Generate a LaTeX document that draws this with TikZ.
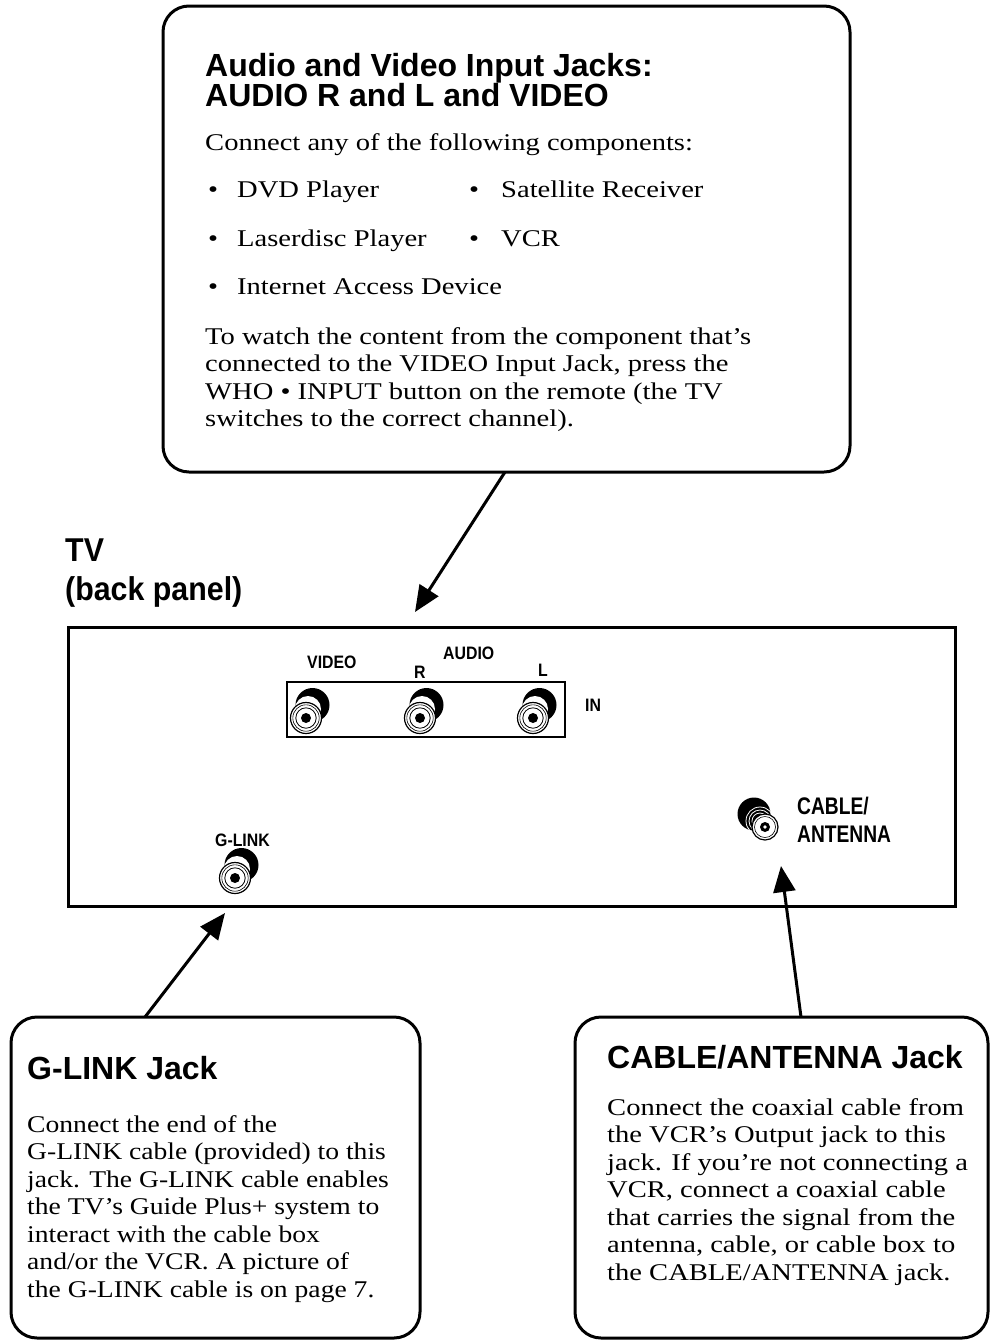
\documentclass[tikz,border=0pt]{standalone}
\usepackage{fontspec}
\setmainfont{Liberation Serif}[FakeStretch=1.19]
\newfontfamily\hv{Liberation Sans}
\newfontfamily\hvc{Liberation Sans}[FakeStretch=0.88]
\newfontfamily\hvcc{Liberation Sans}[FakeStretch=0.80]
\newfontfamily\hvtv{Liberation Sans}[FakeStretch=0.92]
\usetikzlibrary{arrows.meta}
\begin{document}
\begin{tikzpicture}[x=1pt,y=-1pt,
  callout/.style={draw, line width=3pt, rounded corners=26pt},
  title/.style={anchor=base west, inner sep=0pt, font=\hv\bfseries\fontsize{32}{34}\selectfont},
  body/.style={anchor=base west, inner sep=0pt, align=left, font=\fontsize{24}{27.5}\selectfont},
  lbl/.style={anchor=base west, inner sep=0pt, font=\hvc\bfseries\fontsize{18}{27}\selectfont},
  biglbl/.style={anchor=base west, inner sep=0pt, font=\hvcc\bfseries\fontsize{24}{28}\selectfont},
  tvlbl/.style={anchor=base west, inner sep=0pt, font=\hvtv\bfseries\fontsize{33}{36}\selectfont},
  pointer/.style={line width=3pt, -{Triangle[length=26pt,width=22pt]}}
]
\useasboundingbox (0,0) rectangle (990,1342);

% ---------- top callout ----------
\draw[callout] (163,6) rectangle (850,472);
\node[title] (t1) at (205,76) {Audio and Video Input Jacks:};
\node[title] (t2) at (205,106) {AUDIO R and L and VIDEO};
\node[body] (b0) at (205,150) {Connect any of the following components:};
\node[body] (bl1) at (208,197) {\makebox[29pt][l]{\textbullet}DVD Player};
\node[body] (bl2) at (208,246) {\makebox[29pt][l]{\textbullet}Laserdisc Player};
\node[body] (bl3) at (208,294) {\makebox[29pt][l]{\textbullet}Internet Access Device};
\node[body] (br1) at (469,197) {\makebox[32pt][l]{\textbullet}Satellite Receiver};
\node[body] (br2) at (469,246) {\makebox[32pt][l]{\textbullet}VCR};
\node[body, anchor=north west] (bp) at (205,327) {To watch the content from the component that’s\\connected to the VIDEO Input Jack, press the\\WHO \textbullet{} INPUT button on the remote (the TV\\switches to the correct channel).};

% ---------- TV heading ----------
\node[tvlbl] (tv1) at (65,561) {TV};
\node[tvlbl] (tv2) at (65,600) {(back panel)};

% ---------- panel ----------
\draw[line width=3pt] (68,627) rectangle (955,906);
\node[draw, line width=1.8pt, minimum width=278pt, minimum height=55pt, inner sep=0pt] (inbox) at (426,709.5) {};
\node[lbl] (lvideo) at (307,668) {VIDEO};
\node[lbl] (laudio) at (443,659) {AUDIO};
\node[lbl] (lr) at (414,678) {R};
\node[lbl] (ll) at (538,676) {L};
\node[lbl] (lin) at (585,711) {IN};
\node[lbl] (lglink) at (215,846) {G-LINK};
\node[biglbl] (lcab1) at (797,814) {CABLE/};
\node[biglbl] (lcab2) at (797,842) {ANTENNA};

% RCA jacks: #1 front centre x, #2 front centre y
\newcommand{\rcajack}[2]{%
  \fill[black] (#1+6.5,#2-13) circle (17);
  \fill[white] (#1+2,#2-9) circle (13);
  \filldraw[fill=white, draw=black, line width=1.2pt] (#1,#2) circle (15.5);
  \draw[line width=0.6pt] (#1,#2) circle (13.2);
  \draw[line width=0.8pt] (#1,#2) circle (10.2);
  \fill[black] (#1,#2) circle (5);
}
\rcajack{306}{718}
\rcajack{420}{718}
\rcajack{533}{718}
\rcajack{235}{878}

% coaxial jack
\fill[black] (754,814) circle (16.5);
\foreach \r in {8,11,14} {\draw[white, line width=0.8pt] (760,821) circle (\r);}
\filldraw[fill=white, draw=black, line width=1.2pt] (765,827) circle (13);
\draw[line width=0.6pt] (765,827) circle (10.5);
\fill[black] (765,827) circle (5);
\fill[white] (765,827) circle (1.8);

\coordinate (jin) at (415,612);
\coordinate (jg) at (225,913);
\coordinate (jc) at (781,866);

% ---------- bottom callouts ----------
\draw[callout] (11,1017) rectangle (420,1338);
\node[title] (gt) at (27,1079) {G-LINK Jack};
\node[body, anchor=north west, font=\addfontfeature{FakeStretch=1.15}\fontsize{24}{27.5}\selectfont] (gb) at (27,1115) {Connect the end of the\\G-LINK cable (provided) to this\\jack. The G-LINK cable enables\\the TV’s Guide Plus+ system to\\interact with the cable box\\and/or the VCR. A picture of\\the G-LINK cable is on page 7.};

\draw[callout] (575,1017) rectangle (988,1338);
\node[title] (ct) at (607,1068) {CABLE/ANTENNA Jack};
\node[body, anchor=north west] (cb) at (607,1098) {Connect the coaxial cable from\\the VCR’s Output jack to this\\jack. If you’re not connecting a\\VCR, connect a coaxial cable\\that carries the signal from the\\antenna, cable, or cable box to\\the CABLE/ANTENNA jack.};

% ---------- pointers ----------
\coordinate (ptop) at (505,472);
\coordinate (pg) at (145,1017);
\coordinate (pc) at (801,1017);
\draw[pointer] (ptop) -- (jin);
\draw[pointer] (pg) -- (jg);
\draw[pointer] (pc) -- (jc);
\end{tikzpicture}
\end{document}
